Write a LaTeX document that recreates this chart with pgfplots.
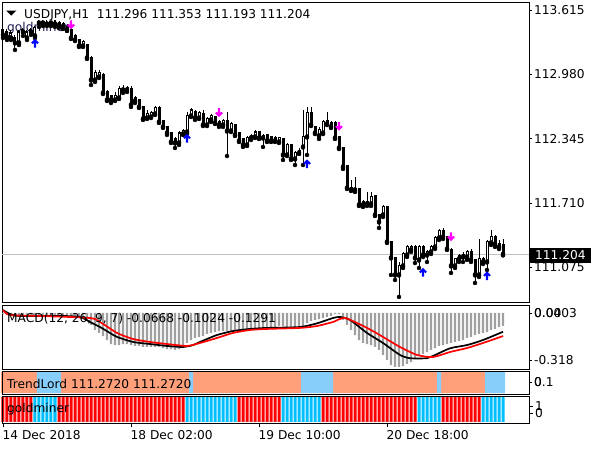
\documentclass[border=0pt]{standalone}
\usepackage{pgfplots}
\pgfplotsset{compat=1.18}
\usepackage{pgfplotstable}
\usepackage{fontspec}
\setmainfont{DejaVu Sans}

\definecolor{tlsalmon}{RGB}{255,160,122}
\definecolor{tlblue}{RGB}{135,206,250}
\definecolor{gmred}{RGB}{255,0,0}
\definecolor{gmblue}{RGB}{0,191,255}
\definecolor{histgray}{RGB}{160,160,160}
\definecolor{pricegray}{RGB}{192,192,192}
\definecolor{arrblue}{RGB}{0,0,255}
\definecolor{arrpink}{RGB}{255,0,255}
\definecolor{labnavy}{RGB}{25,25,80}

\newcommand\mtfont{\fontsize{12.2}{14}\selectfont}

% chunky MT4 style arrows
\pgfdeclareplotmark{uarr}{%
  \pgfpathmoveto{\pgfqpoint{0pt}{4.6pt}}%
  \pgfpathlineto{\pgfqpoint{3.8pt}{0.8pt}}%
  \pgfpathlineto{\pgfqpoint{2.4pt}{-0.6pt}}%
  \pgfpathlineto{\pgfqpoint{1.2pt}{0.6pt}}%
  \pgfpathlineto{\pgfqpoint{1.2pt}{-4.2pt}}%
  \pgfpathlineto{\pgfqpoint{-1.2pt}{-4.2pt}}%
  \pgfpathlineto{\pgfqpoint{-1.2pt}{0.6pt}}%
  \pgfpathlineto{\pgfqpoint{-2.4pt}{-0.6pt}}%
  \pgfpathlineto{\pgfqpoint{-3.8pt}{0.8pt}}%
  \pgfpathclose
  \pgfusepathqfill}
\pgfdeclareplotmark{darr}{%
  \pgfpathmoveto{\pgfqpoint{0pt}{-4.6pt}}%
  \pgfpathlineto{\pgfqpoint{3.8pt}{-0.8pt}}%
  \pgfpathlineto{\pgfqpoint{2.4pt}{0.6pt}}%
  \pgfpathlineto{\pgfqpoint{1.2pt}{-0.6pt}}%
  \pgfpathlineto{\pgfqpoint{1.2pt}{4.2pt}}%
  \pgfpathlineto{\pgfqpoint{-1.2pt}{4.2pt}}%
  \pgfpathlineto{\pgfqpoint{-1.2pt}{-0.6pt}}%
  \pgfpathlineto{\pgfqpoint{-2.4pt}{0.6pt}}%
  \pgfpathlineto{\pgfqpoint{-3.8pt}{-0.8pt}}%
  \pgfpathclose
  \pgfusepathqfill}

% i open high low close | macd histogram | trendlord state | goldminer state
\pgfplotstableread{
i O H L C hist tl gm
0 113.418 113.448 113.339 113.369 -0.007 0 0
1 113.398 113.428 113.319 113.349 -0.014 0 0
2 113.339 113.418 113.319 113.388 -0.020 0 0
3 113.339 113.369 113.221 113.290 -0.027 0 0
4 113.290 113.418 113.270 113.398 -0.027 0 0
5 113.418 113.438 113.359 113.398 -0.027 0 0
6 113.339 113.418 113.319 113.398 -0.027 0 0
7 113.418 113.438 113.369 113.398 -0.027 0 0
8 113.359 113.457 113.339 113.438 -0.027 0 1
9 113.497 113.517 113.448 113.487 -0.027 1 1
10 113.497 113.517 113.457 113.487 -0.027 1 1
11 113.487 113.517 113.457 113.477 -0.027 1 1
12 113.497 113.507 113.457 113.487 -0.027 1 1
13 113.487 113.517 113.448 113.477 -0.027 1 1
14 113.487 113.507 113.438 113.467 -0.027 1 0
15 113.477 113.497 113.428 113.448 -0.027 0 0
16 113.457 113.477 113.408 113.418 -0.027 0 0
17 113.418 113.438 113.329 113.339 -0.027 0 0
18 113.359 113.378 113.309 113.319 -0.027 0 0
19 113.319 113.329 113.250 113.260 -0.027 0 0
20 113.260 113.319 113.250 113.300 -0.034 0 0
21 113.270 113.280 113.132 113.142 -0.047 0 0
22 113.151 113.161 112.875 112.924 -0.081 0 0
23 112.924 113.023 112.905 113.003 -0.115 0 0
24 112.954 113.023 112.944 112.994 -0.135 0 0
25 112.974 112.994 112.786 112.796 -0.156 0 0
26 112.806 112.826 112.717 112.727 -0.183 0 0
27 112.767 112.776 112.697 112.727 -0.210 0 0
28 112.727 112.806 112.717 112.776 -0.217 0 0
29 112.747 112.865 112.737 112.845 -0.217 0 0
30 112.845 112.875 112.796 112.826 -0.210 0 0
31 112.826 112.865 112.806 112.855 -0.210 0 0
32 112.845 112.865 112.658 112.678 -0.217 0 0
33 112.747 112.767 112.697 112.717 -0.223 0 0
34 112.727 112.737 112.648 112.658 -0.223 0 0
35 112.658 112.668 112.530 112.540 -0.230 0 0
36 112.549 112.628 112.540 112.589 -0.230 0 0
37 112.559 112.618 112.549 112.599 -0.230 0 0
38 112.589 112.668 112.579 112.648 -0.230 0 0
39 112.648 112.668 112.500 112.510 -0.230 0 0
40 112.520 112.530 112.451 112.461 -0.237 0 0
41 112.461 112.470 112.382 112.401 -0.244 0 0
42 112.401 112.411 112.303 112.313 -0.244 0 0
43 112.342 112.362 112.253 112.303 -0.250 0 0
44 112.303 112.421 112.283 112.401 -0.244 0 0
45 112.391 112.441 112.382 112.421 -0.223 0 0
46 112.411 112.609 112.391 112.569 -0.203 0 1
47 112.569 112.648 112.559 112.628 -0.183 1 1
48 112.618 112.628 112.530 112.549 -0.169 0 1
49 112.549 112.618 112.540 112.599 -0.162 0 1
50 112.589 112.628 112.470 112.480 -0.156 0 1
51 112.480 112.559 112.470 112.540 -0.142 0 1
52 112.530 112.589 112.510 112.569 -0.135 0 1
53 112.559 112.569 112.490 112.500 -0.129 0 1
54 112.510 112.530 112.461 112.480 -0.122 0 1
55 112.480 112.540 112.461 112.520 -0.122 0 1
56 112.520 112.609 112.174 112.421 -0.122 0 1
57 112.421 112.510 112.411 112.490 -0.122 0 1
58 112.480 112.490 112.372 112.382 -0.115 0 1
59 112.401 112.411 112.313 112.322 -0.115 0 0
60 112.342 112.352 112.263 112.283 -0.108 0 0
61 112.283 112.372 112.273 112.352 -0.108 0 0
62 112.372 112.391 112.332 112.352 -0.101 0 0
63 112.362 112.431 112.352 112.411 -0.101 0 0
64 112.411 112.421 112.342 112.352 -0.101 0 0
65 112.372 112.391 112.263 112.352 -0.101 0 0
66 112.382 112.391 112.313 112.322 -0.095 0 0
67 112.362 112.372 112.313 112.322 -0.095 0 0
68 112.352 112.372 112.313 112.322 -0.095 0 0
69 112.313 112.362 112.303 112.352 -0.088 0 0
70 112.342 112.352 112.135 112.184 -0.088 0 1
71 112.184 112.303 112.174 112.283 -0.095 0 1
72 112.283 112.293 112.135 112.145 -0.095 0 1
73 112.145 112.224 112.085 112.204 -0.095 0 1
74 112.204 112.253 112.194 112.224 -0.095 0 1
75 112.263 112.628 112.085 112.362 -0.088 1 1
76 112.362 112.658 112.184 112.599 -0.068 1 1
77 112.599 112.658 112.470 112.480 -0.054 1 1
78 112.461 112.470 112.391 112.401 -0.047 1 1
79 112.372 112.461 112.342 112.431 -0.041 1 1
80 112.401 112.530 112.391 112.510 -0.034 1 0
81 112.520 112.609 112.480 112.490 -0.027 1 0
82 112.500 112.520 112.451 112.461 -0.020 1 0
83 112.500 112.520 112.342 112.352 -0.007 0 0
84 112.362 112.372 112.243 112.253 -0.007 0 0
85 112.253 112.263 112.046 112.066 -0.047 0 0
86 112.076 112.085 111.849 111.858 -0.081 0 0
87 111.868 111.937 111.829 111.839 -0.115 0 0
88 111.858 111.967 111.819 111.839 -0.149 0 0
89 111.849 111.858 111.681 111.691 -0.183 0 0
90 111.720 111.740 111.671 111.691 -0.203 0 0
91 111.720 111.819 111.681 111.701 -0.210 0 0
92 111.701 111.819 111.681 111.770 -0.217 0 0
93 111.780 111.789 111.582 111.592 -0.230 0 0
94 111.592 111.602 111.464 111.523 -0.250 0 0
95 111.592 111.691 111.572 111.671 -0.284 0 0
96 111.671 111.681 111.316 111.326 -0.318 0 0
97 111.326 111.335 111.000 111.168 -0.352 0 0
98 111.168 111.177 110.950 111.000 -0.365 0 0
99 111.000 111.128 110.783 111.098 -0.365 0 0
100 111.089 111.227 111.069 111.207 -0.359 0 0
101 111.197 111.296 111.177 111.276 -0.345 0 0
102 111.247 111.296 111.227 111.276 -0.332 0 0
103 111.276 111.296 111.118 111.168 -0.311 0 0
104 111.148 111.296 111.069 111.276 -0.291 0 1
105 111.276 111.296 111.177 111.197 -0.277 0 1
106 111.197 111.247 111.128 111.227 -0.264 0 1
107 111.227 111.296 111.207 111.276 -0.250 0 1
108 111.276 111.385 111.256 111.365 -0.237 0 1
109 111.365 111.454 111.345 111.434 -0.223 1 1
110 111.434 111.464 111.355 111.375 -0.217 0 0
111 111.375 111.385 111.247 111.256 -0.210 0 0
112 111.256 111.266 111.020 111.089 -0.203 0 0
113 111.089 111.168 111.069 111.158 -0.196 0 0
114 111.158 111.207 111.128 111.187 -0.189 0 0
115 111.197 111.227 111.128 111.177 -0.183 0 0
116 111.177 111.247 111.148 111.227 -0.169 0 0
117 111.227 111.256 111.128 111.148 -0.162 0 0
118 111.148 111.158 110.921 111.000 -0.149 0 0
119 111.000 111.355 110.980 111.158 -0.142 0 0
120 111.158 111.177 111.108 111.128 -0.135 0 1
121 111.128 111.345 111.049 111.326 -0.129 1 1
122 111.316 111.444 111.296 111.375 -0.115 1 1
123 111.375 111.395 111.276 111.306 -0.108 1 1
124 111.306 111.345 111.256 111.276 -0.095 1 1
125 111.296 111.353 111.193 111.204 -0.088 1 1
}\data

\pgfplotsset{
  mt/.style={
    scale only axis, width=527pt, xmin=-0.25, xmax=131.5,
    anchor=north west, clip=false,
    axis line style={line width=0.9pt},
    tick style={black, line width=0.9pt},
    major tick length=3pt, tick align=outside,
    xtick=\empty, ytick pos=right, yticklabel pos=right,
    ticklabel style={font=\mtfont},
    yticklabel style={anchor=west, inner sep=0pt, xshift=2pt},
    /pgf/number format/assume math mode=true,
  },
  bars/.style={ybar, bar shift=0pt, draw=none},
}

\begin{document}
\begin{tikzpicture}
\fill[white] (0pt,0pt) rectangle (600pt,-450pt);
\path[use as bounding box] (0pt,0pt) rectangle (600pt,-450pt);

% label sits under the candles, as in the terminal
\begin{scope}[x=1pt, y=-1pt]
\node[anchor=base west, inner sep=0pt, font=\mtfont, text=labnavy] at (7,31) {goldminer};
\end{scope}

% price panel
\begin{axis}[mt, at={(2pt,-2pt)}, height=300pt,
  ymin=110.733, ymax=113.694,
  ytick={113.615,112.980,112.345,111.710,111.075},
  yticklabels={113.615,112.980,112.345,111.710,111.075}]
\addplot[pricegray, line width=0.8pt] coordinates {(-0.25,111.204) (131.5,111.204)};
% wicks
\addplot[only marks, mark=none, error bars/.cd, y dir=plus, y explicit, error mark=none,
  error bar style={draw=black, line width=1pt}]
  table[x=i, y=L, y error expr={\thisrow{H}-\thisrow{L}}] {\data};
% bodies
\addplot[only marks, mark=none, error bars/.cd, y dir=plus, y explicit, error mark=none,
  error bar style={draw=black, line width=3pt}]
  table[x=i, y expr={min(\thisrow{O},\thisrow{C})-0.005},
        y error expr={abs(\thisrow{O}-\thisrow{C})+0.01}] {\data};
% hollow inside of rising candles
\addplot[only marks, mark=none, error bars/.cd, y dir=plus, y explicit, error mark=none,
  error bar style={draw=white, line width=1pt}]
  table[x=i, y expr={min(\thisrow{O},\thisrow{C})+0.005},
        y error expr={max(\thisrow{C}-\thisrow{O}-0.01,0)}] {\data};
% signals
\addplot[only marks, mark=uarr, arrblue] coordinates {
  (8,113.285) (46,112.347) (76,112.095) (105,111.024) (121,110.990)};
\addplot[only marks, mark=darr, arrpink] coordinates {
  (17,113.472) (54,112.604) (84,112.470) (112,111.380)};
\end{axis}

% MACD panel
\begin{axis}[mt, at={(2pt,-305pt)}, height=64pt,
  ymin=-0.379, ymax=0.054,
  ytick={-0.318,0}, yticklabels={-0.318,0.00},
  extra y ticks={0}, extra y tick labels={0.0403}]
\addplot[bars, bar width=0.6, fill=histgray] table[x=i, y=hist] {\data};
\addplot[black, line width=1.7pt, smooth, tension=0.4] coordinates {
  (0,0.020) (1.75,-0.007) (4.25,-0.020) (14.25,-0.020) (19.25,-0.027)
  (21.75,-0.061) (24.25,-0.095) (26.75,-0.135) (28.5,-0.162) (32.5,-0.196)
  (36.75,-0.210) (41,-0.223) (45,-0.230) (47.5,-0.217) (49.25,-0.196)
  (53.5,-0.149) (57.5,-0.122) (61.75,-0.108) (66,-0.101) (74.25,-0.095)
  (78.5,-0.070) (82.5,-0.034) (84.25,-0.027) (86.75,-0.047) (91,-0.135)
  (95,-0.203) (99.25,-0.284) (101.75,-0.306) (106,-0.306) (107.5,-0.291)
  (111.75,-0.239) (116,-0.217) (120,-0.183) (125,-0.127)};
\addplot[red, line width=1.7pt, smooth, tension=0.4] coordinates {
  (0,0.020) (1.75,-0.014) (9.25,-0.020) (21.75,-0.034) (24.25,-0.061)
  (28.5,-0.135) (32.5,-0.176) (36.75,-0.196) (41,-0.210) (46,-0.223)
  (49.25,-0.203) (53.5,-0.169) (57.5,-0.135) (61.75,-0.115) (66,-0.108)
  (74.25,-0.101) (78.5,-0.088) (82.5,-0.061) (85.5,-0.034) (91,-0.101)
  (95,-0.162) (99.25,-0.230) (103.5,-0.284) (107.5,-0.298) (111.75,-0.264)
  (116,-0.237) (120,-0.203) (125,-0.156)};
\end{axis}

% TrendLord panel
\begin{axis}[mt, at={(2pt,-371pt)}, height=23pt, axis on top,
  ymin=-0.04, ymax=1.04,
  ytick={0.5}, yticklabels={0.1}, extra y ticks={0.5}, extra y tick labels={0}]
\addplot[bars, bar width=1, fill=tlsalmon] table[x=i, y expr={1-\thisrow{tl}}] {\data};
\addplot[bars, bar width=1, fill=tlblue] table[x=i, y=tl] {\data};
\end{axis}

% goldminer panel
\begin{axis}[mt, at={(2pt,-396pt)}, height=27pt, axis on top,
  ymin=-0.05, ymax=1.03,
  ytick={0.35,0.63}, yticklabels={0,1},
  xtick={0,32,64,96}, xtick pos=bottom, major tick length=4pt,
  xticklabels={14 Dec 2018,18 Dec 02:00,19 Dec 10:00,20 Dec 18:00},
  xticklabel style={anchor=north west, inner sep=0pt, xshift=-0.5pt, yshift=-3pt}]
\addplot[bars, bar width=0.75, fill=gmred] table[x=i, y expr={1-\thisrow{gm}}] {\data};
\addplot[bars, bar width=0.75, fill=gmblue] table[x=i, y=gm] {\data};
\end{axis}

\begin{scope}[x=1pt, y=-1pt, every node/.style={font=\mtfont, inner sep=0pt}]
\fill[black] (6,10.5) -- (16.5,10.5) -- (11.25,15.5) -- cycle;
\node[anchor=base west] at (24,18.5) {USDJPY,H1\ \ 111.296 111.353 111.193 111.204};
\node[anchor=base west] at (7,322) {MACD(12, 26, 9, 7) -0.0668 -0.1024 -0.1291};
\node[anchor=base west] at (7,388) {TrendLord 111.2720 111.2720};
\node[anchor=base west] at (7,412.5) {goldminer};
\node[anchor=west, fill=black, text=white, inner xsep=5pt, minimum height=15pt]
  at (530,255.5) {111.204};
\end{scope}
\end{tikzpicture}
\end{document}
